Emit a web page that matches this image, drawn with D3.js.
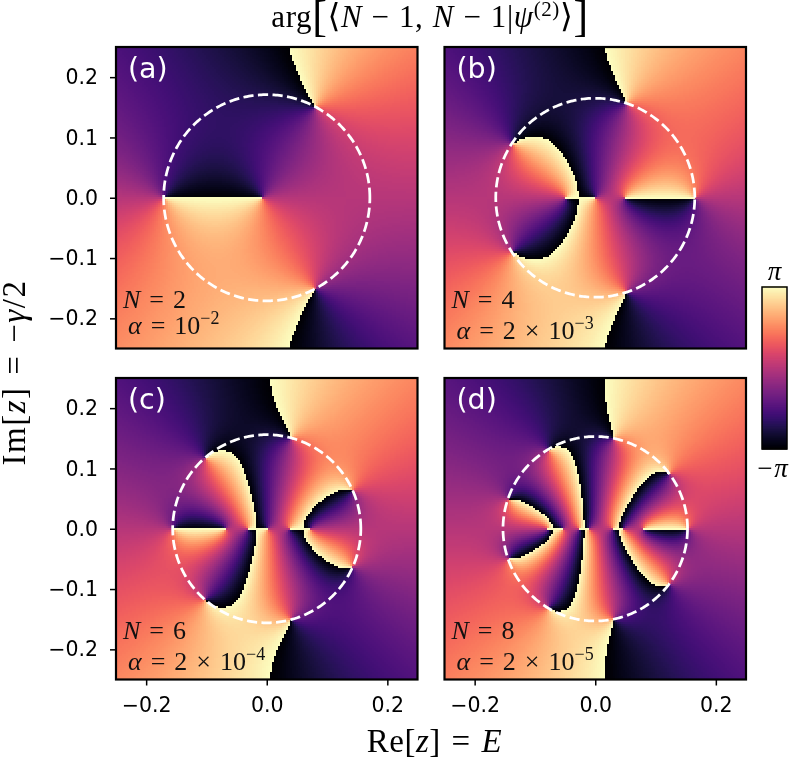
<!DOCTYPE html>
<html><head><meta charset="utf-8">
<script src="https://cdn.jsdelivr.net/npm/d3@7"></script>
<style>
html,body{margin:0;padding:0;background:#fff;width:790px;height:760px;overflow:hidden}
canvas{position:absolute;filter:blur(0.35px)}
svg{position:absolute;left:0;top:0}
</style></head><body>
<div id="chart"></div>
<script>
// Values
const panelLabels = ["(a)", "(b)", "(c)", "(d)"];
const radii = [0.171, 0.165, 0.156, 0.153];
const zeroAnglesA = [180, 62, -62];
const zeroAnglesB = [0, 72, -72, 147, -147];
const zeroAnglesC = [180, 131, -131, 75, -75, 24, -24];
const zeroAnglesD = [0, 37, -37, 79, -79, 121, -121, 161, -161];
const polesA = [-0.007];
const polesB = [-0.05, 0.0, 0.048];
const polesC = [-0.069, -0.032, 0.001, 0.037, 0.073];
const polesD = [-0.08, -0.055, -0.028, -0.0116, 0.0277, 0.0465, 0.08];
const xTicks = [-0.2, 0, 0.2];
const yTicks = [-0.2, -0.1, 0, 0.1, 0.2];
const nValues = ["2", "4", "6", "8"];
const alphaMant = ["", "2 × ", "2 × ", "2 × "];
const alphaExp = ["−2", "−3", "−4", "−5"];
const zeroAngles = [zeroAnglesA, zeroAnglesB, zeroAnglesC, zeroAnglesD];
const poles = [polesA, polesB, polesC, polesD];

const GRID = 151, W = 790, H = 760;
const boxes = [
  {l:116, t:47,  s:301.5, alphaDy:26},
  {l:444.5, t:47,  s:301.5, alphaDy:31},
  {l:116, t:378, s:301.5, alphaDy:31},
  {l:444.5, t:378, s:301.5, alphaDy:31}
];
const serif = "'Liberation Serif','DejaVu Serif',serif";
const sans = "'DejaVu Sans',sans-serif";
const color = d3.scaleSequential(d3.interpolateMagma).domain([-Math.PI, Math.PI]);

const root = d3.select("#chart");
const svg = root.append("svg").attr("width", W).attr("height", H).style("z-index", 2);

function phase(x, y, zeros, ps) {
  let re = 1, im = 0;
  const mul = (c, d) => { const r = re*c - im*d; im = re*d + im*c; re = r; };
  zeros.forEach(z => mul(x - z[0], y - z[1]));
  ps.forEach(p => { const c = x - p, d = y, n = c*c + d*d || 1e-12; mul(c/n, -d/n); });
  if (y === 0) im = 0;
  return Math.atan2(im, re);
}

boxes.forEach((b, i) => {
  const x = d3.scaleLinear().domain([-0.25, 0.25]).range([b.l, b.l + b.s]);
  const y = d3.scaleLinear().domain([-0.25, 0.25]).range([b.t + b.s, b.t]);
  const R = radii[i];
  const zeros = zeroAngles[i].map(a => {
    const t = a * Math.PI / 180;
    return [R * Math.cos(t), Math.abs(a) === 180 || a === 0 ? 0 : R * Math.sin(t)];
  });
  // heatmap cells
  const off = document.createElement("canvas");
  off.width = GRID; off.height = GRID;
  const oc = off.getContext("2d");
  const grid = d3.scaleLinear().domain([0, GRID - 1]).range([-0.25, 0.25]);
  for (let r = 0; r < GRID; r++) {
    const yv = r === 75 ? 0 : grid(GRID - 1 - r);
    for (let c = 0; c < GRID; c++) {
      oc.fillStyle = color(phase(grid(c), yv, zeros, poles[i]));
      oc.fillRect(c, r, 1, 1);
    }
  }
  const cv = root.append("canvas")
    .attr("width", Math.round(b.s)).attr("height", Math.round(b.s))
    .style("left", b.l + "px").style("top", b.t + "px").node();
  const ctx = cv.getContext("2d");
  ctx.imageSmoothingEnabled = false;
  ctx.drawImage(off, 0, 0, cv.width, cv.height);

  const g = svg.append("g");
  // dashed circle
  const line = d3.line().x(t => x(R * Math.cos(t))).y(t => y(R * Math.sin(t)));
  g.append("path").datum(d3.range(0, 361).map(d => d * Math.PI / 180))
    .attr("d", line).attr("fill", "none").attr("stroke", "#fff")
    .attr("stroke-width", 2.75).attr("stroke-dasharray", "10.2,4.4");
  // frame
  g.append("rect").attr("x", b.l).attr("y", b.t).attr("width", b.s).attr("height", b.s)
    .attr("fill", "none").attr("stroke", "#000").attr("stroke-width", 2.2);
  // axes
  const fmt = d => d3.format(".1f")(d).replace("-", "−");
  if (i % 2 === 0) {
    const ax = svg.append("g").attr("transform", `translate(${b.l},0)`)
      .call(d3.axisLeft(y).tickValues(yTicks).tickFormat(fmt).tickSize(6).tickPadding(12));
    styleAxis(ax);
  }
  if (i >= 2) {
    const ax = svg.append("g").attr("transform", `translate(0,${b.t + b.s})`)
      .call(d3.axisBottom(x).tickValues(xTicks).tickFormat(fmt).tickSize(6).tickPadding(11.5));
    styleAxis(ax);
  }
  // panel letter
  g.append("text").attr("x", b.l + 12).attr("y", b.t + 31)
    .attr("font-family", sans).attr("font-size", 28.5).attr("fill", "#fff").text(panelLabels[i]);
  // N label
  const nT = g.append("text").attr("x", b.l + 7).attr("y", b.t + 260.5)
    .attr("font-family", serif).attr("font-size", 26).attr("fill", "#111").attr("word-spacing", 2.5);
  nT.append("tspan").attr("font-style", "italic").text("N");
  nT.append("tspan").text(" = " + nValues[i]);
  // alpha label
  const aT = g.append("text").attr("x", b.l + 12).attr("y", b.t + 260.5 + b.alphaDy)
    .attr("font-family", serif).attr("font-size", 26).attr("fill", "#111").attr("word-spacing", 2.5);
  aT.append("tspan").attr("font-style", "italic").text("α");
  aT.append("tspan").text(" = " + alphaMant[i] + "10");
  aT.append("tspan").attr("dy", -10).attr("font-size", 18).text(alphaExp[i]);
});

function styleAxis(ax) {
  ax.select(".domain").remove();
  ax.selectAll(".tick line").attr("stroke", "#000").attr("stroke-width", 1.5);
  ax.selectAll("text").attr("font-family", sans).attr("font-size", 20.5).attr("fill", "#000");
}

function rich(parent, px, py, anchor, size, parts, rotate, ls, ws) {
  const t = parent.append("text").attr("text-anchor", anchor).attr("font-family", serif)
    .attr("font-size", size).attr("fill", "#000")
    .attr("letter-spacing", ls || 0).attr("word-spacing", ws || 0)
    .attr("transform", rotate ? `translate(${px},${py}) rotate(-90)` : `translate(${px},${py})`);
  parts.forEach(p => {
    const s = t.append("tspan").text(p.t);
    if (p.i) s.attr("font-style", "italic");
    if (p.s) s.attr("font-size", p.s);
    if (p.dy) s.attr("dy", p.dy);
    if (p.f) s.attr("font-family", p.f);
  });
  return t;
}
rich(svg, 430, 27, "middle", 31, [
  {t:"arg"}, {t:"[", s:44, dy:4}, {t:"⟨", s:33, dy:-4, f:"'DejaVu Sans'"},
  {t:"N", i:1}, {t:" − 1, "}, {t:"N", i:1}, {t:" − 1|"}, {t:"ψ", i:1},
  {t:"(2)", s:21, dy:-11}, {t:"⟩", s:33, dy:11, f:"'DejaVu Sans'"}, {t:"]", s:44, dy:4}
], false, 0.6, 1);
rich(svg, 434.5, 751.5, "middle", 33, [{t:"Re["}, {t:"z", i:1}, {t:"] = "}, {t:"E", i:1}], false, 0.5, 2);
rich(svg, 25, 372.5, "middle", 33, [{t:"Im["}, {t:"z", i:1}, {t:"] = −"}, {t:"γ", i:1}, {t:"/2"}], true, 1.5, 2);

// colorbar
const cbL = 762, cbW = 25, cbT = 287, cbB = 449;
const cbY = d3.scaleLinear().domain([-Math.PI, Math.PI]).range([cbB, cbT]);
svg.append("g").selectAll("rect").data(d3.range(0, 256).map(d => -Math.PI + 2 * Math.PI * d / 255))
  .join("rect").attr("x", cbL).attr("width", cbW)
  .attr("y", d => cbY(d) - 1).attr("height", 1.6).attr("fill", d => color(d));
svg.append("rect").attr("x", cbL).attr("y", cbT).attr("width", cbW).attr("height", cbB - cbT)
  .attr("fill", "none").attr("stroke", "#000").attr("stroke-width", 1.5);
rich(svg, 774.5, 280, "middle", 27, [{t:"π", i:1}]);
rich(svg, 773.5, 477, "middle", 27, [{t:"−"}, {t:"π", i:1}], false, 2);
</script>
</body></html>
